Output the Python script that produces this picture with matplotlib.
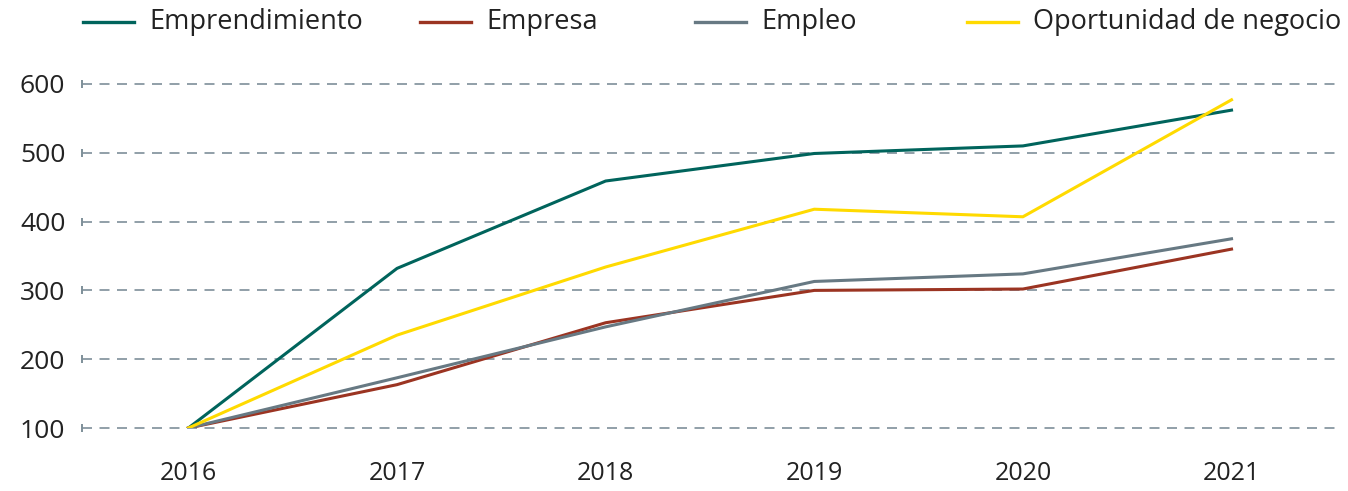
import matplotlib.pyplot as plt
from matplotlib.lines import Line2D

years = ["2016", "2017", "2018", "2019", "2020", "2021"]
emprendimiento = [100, 332, 459, 499, 510, 562]
empresa = [100, 163, 253, 300, 302, 360]
empleo = [100, 173, 247, 313, 324, 375]
oportunidad = [100, 235, 334, 418, 407, 577]
yticks = [100, 200, 300, 400, 500, 600]

series = [
    ("Emprendimiento", emprendimiento, "#00645C"),
    ("Empresa", empresa, "#9B3422"),
    ("Empleo", empleo, "#677983"),
    ("Oportunidad de negocio", oportunidad, "#FFDA00"),
]

plt.rcParams['font.family'] = ['Open Sans', 'DejaVu Sans']
text_color = "#222222"
grid_color = "#7E8F99"

W, H = 1348, 491
fig = plt.figure(figsize=(W / 100, H / 100), dpi=100)
ax = fig.add_axes([82 / W, 1 - 428 / H, (1340 - 82) / W, (428 - 84) / H])

x = list(range(len(years)))
for name, vals, col in series:
    ax.plot(x, vals, color=col, lw=2.2, label=name, zorder=3)

ax.set_xlim(-0.51, 5.52)
ax.set_ylim(100, 600)
for y in yticks:
    ax.axhline(y, color=grid_color, lw=1.2, ls=(0, (6, 4.5)), zorder=1, clip_on=False)
ax.plot([-0.51] * len(yticks), yticks, marker='|', ls='none', ms=6, mew=1.4,
        color=grid_color, clip_on=False, zorder=2)

ax.set_xticks(x)
ax.set_xticklabels(years)
ax.set_yticks(yticks)
ax.tick_params(length=0, colors=text_color)
ax.tick_params(axis='x', pad=24, labelsize=18)
ax.tick_params(axis='y', pad=12, labelsize=19)
for s in ax.spines.values():
    s.set_visible(False)

# legend drawn by hand to keep the uneven spacing of the original
legend_x = [83, 420, 695, 967]
for (name, vals, col), lx in zip(series, legend_x):
    fig.add_artist(Line2D([lx / W, (lx + 51) / W], [1 - 22 / H, 1 - 22 / H],
                          color=col, lw=2.4, transform=fig.transFigure))
    fig.text((lx + 66) / W, 1 - 29 / H, name, fontsize=19.5, color=text_color,
             va='baseline', ha='left')

fig.savefig("out.png", dpi=100)
